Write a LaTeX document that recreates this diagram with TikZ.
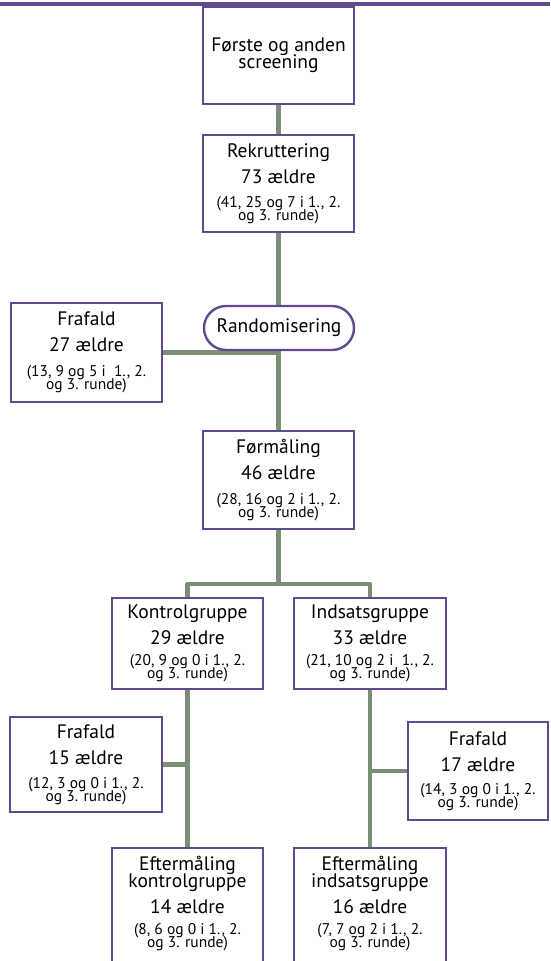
\documentclass[tikz,border=0pt]{standalone}
\usepackage{fontspec}
\setmainfont{PT Sans}
\usetikzlibrary{shapes.misc}
\definecolor{boxpurple}{RGB}{94,74,140}
\definecolor{linegreen}{RGB}{122,143,118}
\newcommand\smalltxt{\fontsize{15.5}{15.5}\selectfont}
\pgfdeclarelayer{bg}
\pgfsetlayers{bg,main}
\begin{document}
\begin{tikzpicture}[x=1pt,y=-1pt,
  box/.style={draw=boxpurple, line width=2.4pt, fill=white, inner sep=0pt,
    align=center, font=\fontsize{19.5}{26}\selectfont},
  boxtext/.style={inner sep=0pt, align=center, font=\fontsize{19.5}{26}\selectfont},
  conn/.style={draw=linegreen, line width=4.5pt, line join=round},
  rule/.style={draw=boxpurple, line width=4pt}]
\useasboundingbox (0,0) rectangle (550,961);
\clip (0,0) rectangle (550,961);

\coordinate (ruleL) at (0,4.3);
\coordinate (ruleR) at (550,4.3);
\draw[rule] (ruleL) -- (ruleR);

\node[box, minimum width=151pt, minimum height=97pt] (scr) at (278.5,55.5)
  {Første og anden\\[-9pt]screening};
\node[box, minimum width=151pt, minimum height=97pt] (rek) at (278.5,183.5)
  {Rekruttering\\73 ældre\\[-2pt]\smalltxt (41, 25 og 7 i 1., 2.\\[-13pt]\smalltxt og 3. runde)};
\node[box, rounded rectangle, minimum width=150pt, minimum height=44pt] (rand) at (279,328)
  {Randomisering};
\node[box, minimum width=151pt, minimum height=99pt] (fra1) at (86.5,352.5)
  {Frafald\\27 ældre\\[-1pt]\smalltxt (13, 9 og 5 i \ 1., 2.\\[-13pt]\smalltxt og 3. runde)};
\node[box, minimum width=151pt, minimum height=98pt] (for) at (278.5,480)
  {Førmåling\\46 ældre\\[-1pt]\smalltxt (28, 16 og 2 i 1., 2.\\[-13pt]\smalltxt og 3. runde)};
\node[box, minimum width=151pt, minimum height=91pt] (kon) at (187.5,643.5)
  {Kontrolgruppe\\29 ældre\\[-5pt]\smalltxt (20, 9 og 0 i 1., 2.\\[-13pt]\smalltxt og 3. runde)};
\node[box, minimum width=152pt, minimum height=91pt] (ind) at (370,643.5)
  {Indsatsgruppe\\33 ældre\\[-5pt]\smalltxt (21, 10 og 2 i \ 1., 2.\\[-13pt]\smalltxt og 3. runde)};
\node[box, minimum width=152pt, minimum height=95pt] (fra2) at (86,764.5)
  {Frafald\\15 ældre\\[-2pt]\smalltxt (12, 3 og 0 i 1., 2.\\[-13pt]\smalltxt og 3. runde)};
\node[box, minimum width=140pt, minimum height=98pt] (fra3) at (478,771)
  {Frafald\\17 ældre\\[-3pt]\smalltxt (14, 3 og 0 i 1., 2.\\[-13pt]\smalltxt og 3. runde)};
\node[box, minimum width=151pt, minimum height=124pt] (eft1) at (187.5,910) {};
\node[box, minimum width=152pt, minimum height=124pt] (eft2) at (370,910) {};
\node[boxtext] (eft1t) at (187.5,903.5)
  {Eftermåling\\[-9pt]kontrolgruppe\\14 ældre\\[-5pt]\smalltxt (8, 6 og 0 i 1., 2.\\[-13pt]\smalltxt og 3. runde)};
\node[boxtext] (eft2t) at (370,903.5)
  {Eftermåling\\[-9pt]indsatsgruppe\\16 ældre\\[-5pt]\smalltxt (7, 7 og 2 i 1., 2.\\[-13pt]\smalltxt og 3. runde)};

\coordinate (br) at (278.5,584);

\begin{pgfonlayer}{bg}
\draw[conn] (scr.south) -- (rek.north);
\draw[conn] (rek.south) -- (for.north);
\draw[conn] (fra1.east) -- (fra1.east -| rek.south);
\draw[conn] (for.south) -- (br);
\draw[conn] (kon.north) -- (kon.north |- br) -- (ind.north |- br) -- (ind.north);
\draw[conn] (kon.south) -- (eft1.north);
\draw[conn] (ind.south) -- (eft2.north);
\draw[conn] (fra2.east) -- (fra2.east -| kon.south);
\draw[conn] (fra3.west) -- (fra3.west -| ind.south);
\end{pgfonlayer}
\end{tikzpicture}
\end{document}
